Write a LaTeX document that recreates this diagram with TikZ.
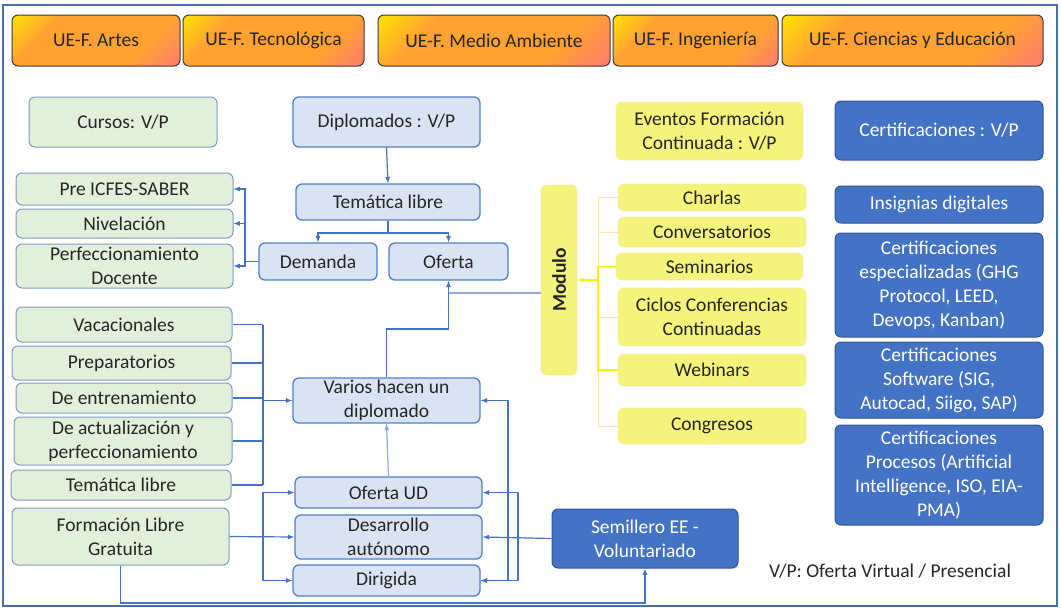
\documentclass[tikz,border=0pt]{standalone}
\usepackage{fontspec}
\setmainfont{Carlito}
\usetikzlibrary{arrows}
\definecolor{txt}{HTML}{262626}
\definecolor{marco}{HTML}{4A6FA5}
\definecolor{uedark}{HTML}{3A3A3A}
\definecolor{ueyel}{HTML}{FFE600}
\definecolor{ueora}{HTML}{FFA232}
\definecolor{uepink}{HTML}{FF7B73}
\definecolor{verdef}{HTML}{E2EFDA}
\definecolor{verdeb}{HTML}{8099C4}
\definecolor{azulf}{HTML}{DAE3F3}
\definecolor{azulb}{HTML}{4F81C7}
\definecolor{amarf}{HTML}{F4F47C}
\definecolor{amarb}{HTML}{FFE9A6}
\definecolor{certf}{HTML}{4472C4}
\definecolor{certb}{HTML}{2F5597}
\definecolor{linka}{HTML}{4472C4}
\definecolor{linkc}{HTML}{8FAADC}
\definecolor{linky}{HTML}{FFE3A8}
\definecolor{linkyy}{HTML}{FFF200}
\pgfdeclareverticalshading{uegrad}{100bp}{color(0bp)=(uepink); color(14bp)=(uepink);
  color(32bp)=(ueora); color(70bp)=(ueora); color(86bp)=(ueyel); color(100bp)=(ueyel)}
\tikzset{
  box/.style={rounded corners=6pt, align=center, inner sep=0pt, text=txt,
    font=\fontsize{19.5}{24}\selectfont, line width=1pt},
  wh/.style 2 args={minimum width=#1pt, minimum height=#2pt},
  ue/.style={box, draw=uedark, shading=uegrad, shading angle=45},
  verde/.style={box, draw=verdeb, fill=verdef},
  azul/.style={box, draw=azulb, fill=azulf, line width=1.3pt},
  amar/.style={box, draw=amarb, fill=amarf, line width=0.6pt},
  cert/.style={box, draw=certb, fill=certf, text=white},
  link/.style={draw=linka, line width=1.2pt},
  linkl/.style={draw=linkc, line width=1.2pt},
  linky/.style={draw=linky, line width=1pt},
  linkyy/.style={draw=linkyy, line width=1.2pt},
  >=latex
}
\begin{document}
\begin{tikzpicture}[x=1pt, y=-1pt]
\useasboundingbox (0,0) rectangle (1061,613);
\draw[marco, line width=1.2pt] (3,5) rectangle (1057,606);

% facultades
\node[ue, wh={168}{51}] (ueArt) at (96,40.5) {UE-F. Artes};
\node[ue, wh={181}{51}] (ueTec) at (273.5,40.5) {UE-F. Tecnológica};
\node[ue, wh={232}{51}] (ueAmb) at (494,40.5) {UE-F. Medio Ambiente};
\node[ue, wh={165}{51}] (ueIng) at (695.5,40.5) {UE-F. Ingeniería};
\node[ue, wh={261}{51}] (ueCie) at (912.5,40.5) {UE-F. Ciencias y Educación};

% cursos
\node[verde, wh={188}{50}] (cursos) at (123,122) {Cursos: V/P};
\node[verde, wh={217}{32}] (preic) at (124.5,189) {Pre ICFES-SABER};
\node[verde, wh={217}{29}] (nivel) at (124.5,223.5) {Nivelación};
\node[verde, wh={217}{44}] (perfd) at (124.5,266) {Perfeccionamiento\\Docente};
\node[verde, wh={216}{35}] (vacac) at (124,324.5) {Vacacionales};
\node[verde, wh={219}{34}] (prepa) at (121.5,363) {Preparatorios};
\node[verde, wh={216}{30}] (entre) at (124,398) {De entrenamiento};
\node[verde, wh={218}{48}] (actua) at (123,441) {De actualización y\\perfeccionamiento};
\node[verde, wh={220}{30}] (temal) at (121,485) {Temática libre};
\node[verde, wh={217}{57}] (forma) at (120.5,536.5) {Formación Libre\\Gratuita};

% diplomados
\node[azul, wh={187}{50}] (diplo) at (386.5,122) {Diplomados : V/P};
\node[azul, wh={184}{36}] (tema) at (388,202) {Temática libre};
\node[azul, wh={118}{37}] (deman) at (318,261.5) {Demanda};
\node[azul, wh={119}{37}] (ofert) at (448.5,261.5) {Oferta};
\node[azul, wh={187}{45}] (varios) at (386.5,400.5) {Varios hacen un\\diplomado};
\node[azul, wh={187}{31}] (ofud) at (388.5,492.5) {Oferta UD};
\node[azul, wh={187}{44}] (desa) at (388.5,537) {Desarrollo\\autónomo};
\node[azul, wh={187}{31}] (dirig) at (386.5,580.5) {Dirigida};

% eventos
\node[amar, wh={187}{58}] (eventos) at (709.5,131) {Eventos Formación\\Continuada : V/P};
\node[amar, wh={36}{190}] (modulo) at (559,280) {};
\node[rotate=90, text=txt, font=\fontsize{19.5}{24}\selectfont\bfseries] (modtxt) at (modulo) {Modulo};
\node[amar, wh={188}{27}] (charl) at (712,197.5) {Charlas};
\node[amar, wh={188}{30}] (conve) at (712,232) {Conversatorios};
\node[amar, wh={187}{27}] (semin) at (709.5,266.5) {Seminarios};
\node[amar, wh={188}{58}] (ciclo) at (712,317) {Ciclos Conferencias\\Continuadas};
\node[amar, wh={188}{32}] (webin) at (712,370) {Webinars};
\node[amar, wh={188}{36}] (congr) at (712,426) {Congresos};

% certificaciones
\node[cert, wh={208}{59}] (certif) at (939,130.5) {Certificaciones : V/P};
\node[cert, wh={208}{37}] (insig) at (939,204.5) {Insignias digitales};
\node[cert, wh={208}{104}] (cesp) at (939,285) {Certificaciones\\especializadas (GHG\\Protocol, LEED,\\Devops, Kanban)};
\node[cert, wh={208}{76}] (csoft) at (939,380) {Certificaciones\\Software (SIG,\\Autocad, Siigo, SAP)};
\node[cert, wh={208}{100}] (cproc) at (939,475) {Certificaciones\\Procesos (Artificial\\Intelligence, ISO, EIA-\\PMA)};
\node[cert, wh={186}{59}] (semil) at (645,538.5) {Semillero EE -\\Voluntariado};
\node[text=txt, font=\fontsize{19.5}{24}\selectfont] (leyenda) at (890,571) {V/P: Oferta Virtual / Presencial};

% conectores
\coordinate (split) at (388,233);
\coordinate (busA) at (245,0);
\coordinate (busB) at (263,0);
\coordinate (busC) at (508,0);
\coordinate (busD) at (518,0);
\coordinate (busE) at (598,0);
\coordinate (kink) at (0,329);
\coordinate (modin) at (541,293);
\coordinate (bot) at (0,603);

\draw[link,->] (diplo.south) -- (tema.north);
\draw[link] (tema.south) -- (split);
\draw[link,->] (split) -| (deman.north);
\draw[link,->] (split) -| (ofert.north);
\foreach \t in {preic,nivel,perfd}
  \draw[link,->] (deman.west) -- (deman.west -| busA) |- (\t.east);

\foreach \t in {vacac,prepa,entre,actua,temal}
  \draw[link] (\t.east) -- (\t.east -| busB);
\draw[link] (busB |- vacac.east) -- (busB |- temal.east);
\draw[link,->] (busB |- varios.west) -- (varios.west);

\draw[linkl,->] (ofud.north) -- (varios.south);
\draw[link,->] (varios.north) -- (varios.north |- kink) -| (ofert.south);
\draw[linkl] (modin) -- (modin -| ofert.south);

\draw[link,->] (forma.east) -- (desa.west);
\draw[link,->] (forma.east -| busB) |- (ofud.west);
\draw[link,->] (forma.east -| busB) |- (dirig.west);
\draw[link,->] (forma.south) -- (forma.south |- bot) -| (semil.south);

\draw[link,->] (semil.west) -- (desa.east);
\draw[link,<->] (varios.east) -| (busC |- dirig.east) -- (dirig.east);
\draw[link,<->] (ofud.east) -| (busD |- dirig.east) -- (dirig.east);

\foreach \t in {charl,conve,semin,ciclo,webin,congr}
  \draw[linky] (\t.west) -- (\t.west -| busE);
\draw[linky] (busE |- charl.west) -- (busE |- congr.west);
\draw[linkyy] (semin.west) -- (semin.west -| busE) -- (busE |- webin.west) -- (webin.west);
\draw[linkyy,->] (busE |- modulo.east) -- (modulo.east);
\end{tikzpicture}
\end{document}
